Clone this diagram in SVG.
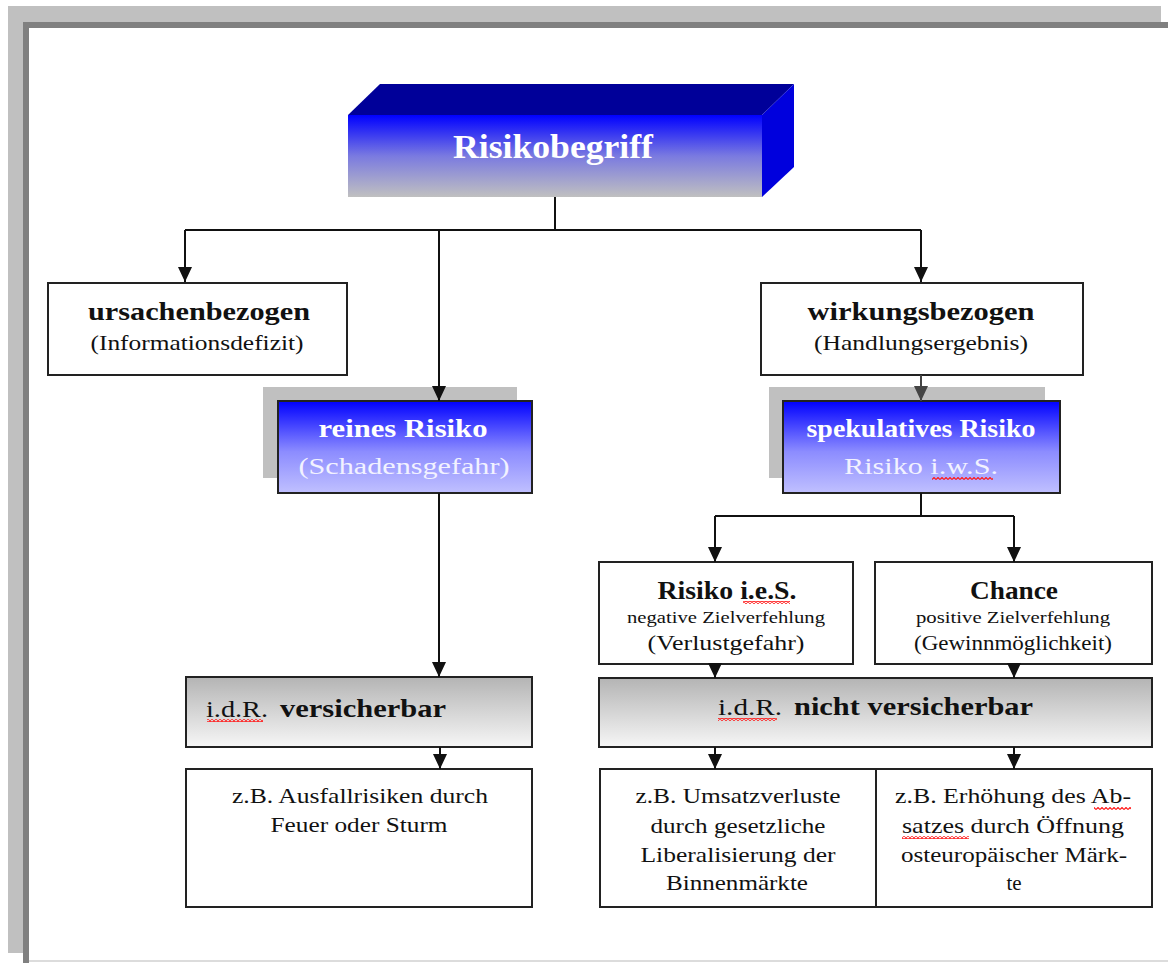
<svg xmlns="http://www.w3.org/2000/svg" width="1168" height="963" viewBox="0 0 1168 963">
  <defs>
    <linearGradient id="frontGrad" x1="0" y1="0" x2="0" y2="1">
      <stop offset="0" stop-color="#0000ff"/>
      <stop offset="0.5" stop-color="#7a7ae0"/>
      <stop offset="1" stop-color="#c0c0c0"/>
    </linearGradient>
    <linearGradient id="blueGrad" x1="0" y1="0" x2="0" y2="1">
      <stop offset="0" stop-color="#0000ff"/>
      <stop offset="0.55" stop-color="#8c8cff"/>
      <stop offset="1" stop-color="#c0c0ff"/>
    </linearGradient>
    <linearGradient id="grayGrad" x1="0" y1="0" x2="0" y2="1">
      <stop offset="0" stop-color="#b4b4b4"/>
      <stop offset="1" stop-color="#f6f6f6"/>
    </linearGradient>
    <pattern id="wavy" width="4" height="3" patternUnits="userSpaceOnUse">
      <path d="M0 2.5 L2 0.5 L4 2.5" fill="none" stroke="#ff1a1a" stroke-width="1.2"/>
    </pattern>
    <marker id="arrow" markerWidth="15" markerHeight="14" refX="15" refY="7" orient="auto" markerUnits="userSpaceOnUse">
      <path d="M0 0 L15 7 L0 14 Z" fill="#111"/>
    </marker>
    <marker id="arrowGray" markerWidth="15" markerHeight="14" refX="15" refY="7" orient="auto" markerUnits="userSpaceOnUse">
      <path d="M0 0 L15 7 L0 14 Z" fill="#444"/>
    </marker>
  </defs>
  <style>
    .box { fill: #fff; stroke: #222; stroke-width: 2; }
    .bbox { fill: url(#blueGrad); stroke: #222; stroke-width: 2; }
    .gbox { fill: url(#grayGrad); stroke: #222; stroke-width: 2; }
    .shadow { fill: #c0c0c0; }
    .t { font-family: "Liberation Serif", "Times New Roman", serif; fill: #111; }
    .b { font-weight: bold; }
    .c { text-anchor: middle; }
    .w { fill: #ffffff; }
    .lw { fill: #f2f2ff; }
    .conn { fill: none; stroke: #111; stroke-width: 2; }
    .wv { fill: url(#wavy); }
  </style>

  <!-- page frame -->
  <g id="frame">
    <rect x="8" y="6" width="1153" height="16" fill="#c0c0c0"/>
    <rect x="8" y="6" width="15" height="947" fill="#c0c0c0"/>
    <rect x="23" y="22" width="1145" height="6" fill="#808080"/>
    <rect x="23" y="22" width="6" height="941" fill="#808080"/>
    <rect x="29" y="960" width="1139" height="2" fill="#dcdcdc"/>
  </g>

  <!-- root block -->
  <g id="risikobegriff">
    <polygon points="348,115 380,84 794,84 762,115" fill="#000099"/>
    <polygon points="762,115 794,84 794,167 762,197" fill="#0000dd"/>
    <rect x="348" y="115" width="414" height="82" fill="url(#frontGrad)"/>
    <text class="t b c w" x="553" y="158" font-size="34" textLength="200" lengthAdjust="spacingAndGlyphs">Risikobegriff</text>
  </g>

  <g id="ursachenbezogen">
    <rect class="box" x="48" y="283" width="299" height="92"/>
    <text class="t b c" x="199" y="320" font-size="26" textLength="222" lengthAdjust="spacingAndGlyphs">ursachenbezogen</text>
    <text class="t c" x="197" y="350" font-size="21" textLength="213" lengthAdjust="spacingAndGlyphs">(Informationsdefizit)</text>
  </g>

  <g id="wirkungsbezogen">
    <rect class="box" x="761" y="283" width="322" height="92"/>
    <text class="t b c" x="921" y="320" font-size="26" textLength="227" lengthAdjust="spacingAndGlyphs">wirkungsbezogen</text>
    <text class="t c" x="921" y="350" font-size="21" textLength="214" lengthAdjust="spacingAndGlyphs">(Handlungsergebnis)</text>
  </g>

  <g id="reines-risiko">
    <rect class="shadow" x="263" y="387" width="254" height="91"/>
    <rect class="bbox" x="278" y="401" width="254" height="92"/>
    <text class="t b c w" x="403" y="437" font-size="25" textLength="169" lengthAdjust="spacingAndGlyphs">reines Risiko</text>
    <text class="t c lw" x="404" y="474" font-size="23" textLength="211" lengthAdjust="spacingAndGlyphs">(Schadensgefahr)</text>
  </g>

  <g id="spekulatives-risiko">
    <rect class="shadow" x="769" y="387" width="276" height="91"/>
    <rect class="bbox" x="783" y="401" width="277" height="92"/>
    <text class="t b c w" x="921" y="437" font-size="25" textLength="229" lengthAdjust="spacingAndGlyphs">spekulatives Risiko</text>
    <text class="t c lw" x="921" y="474" font-size="23" textLength="154" lengthAdjust="spacingAndGlyphs">Risiko i.w.S.</text>
    <rect class="wv" x="932" y="477" width="61" height="3"/>
  </g>

  <g id="risiko-ies">
    <rect class="box" x="599" y="562" width="254" height="102"/>
    <text class="t b c" x="727" y="599" font-size="25" textLength="139" lengthAdjust="spacingAndGlyphs">Risiko i.e.S.</text>
    <rect class="wv" x="743" y="601" width="47" height="3"/>
    <text class="t c" x="726" y="623" font-size="17" textLength="198" lengthAdjust="spacingAndGlyphs">negative Zielverfehlung</text>
    <text class="t c" x="726" y="650" font-size="21" textLength="157" lengthAdjust="spacingAndGlyphs">(Verlustgefahr)</text>
  </g>

  <g id="chance">
    <rect class="box" x="875" y="562" width="277" height="102"/>
    <text class="t b c" x="1014" y="599" font-size="25" textLength="88" lengthAdjust="spacingAndGlyphs">Chance</text>
    <text class="t c" x="1013" y="623" font-size="17" textLength="194" lengthAdjust="spacingAndGlyphs">positive Zielverfehlung</text>
    <text class="t c" x="1013" y="650" font-size="21" textLength="198" lengthAdjust="spacingAndGlyphs">(Gewinnmöglichkeit)</text>
  </g>

  <g id="versicherbar">
    <rect class="gbox" x="186" y="677" width="346" height="70"/>
    <text class="t" x="206" y="717" font-size="23" textLength="62" lengthAdjust="spacingAndGlyphs">i.d.R.</text>
    <text class="t b" x="280" y="717" font-size="25" textLength="166" lengthAdjust="spacingAndGlyphs">versicherbar</text>
    <rect class="wv" x="207" y="719" width="56" height="3"/>
  </g>

  <g id="nicht-versicherbar">
    <rect class="gbox" x="599" y="678" width="553" height="69"/>
    <text class="t" x="718" y="715" font-size="23" textLength="64" lengthAdjust="spacingAndGlyphs">i.d.R.</text>
    <text class="t b" x="794" y="715" font-size="25" textLength="239" lengthAdjust="spacingAndGlyphs">nicht versicherbar</text>
    <rect class="wv" x="718" y="718" width="59" height="3"/>
  </g>

  <g id="beispiel-feuer">
    <rect class="box" x="186" y="769" width="346" height="138"/>
    <text class="t c" x="360" y="803" font-size="21" textLength="256" lengthAdjust="spacingAndGlyphs">z.B. Ausfallrisiken durch</text>
    <text class="t c" x="359" y="832" font-size="21" textLength="177" lengthAdjust="spacingAndGlyphs">Feuer oder Sturm</text>
  </g>

  <g id="beispiel-umsatz">
    <rect class="box" x="600" y="769" width="276" height="138"/>
    <text class="t c" x="738" y="803" font-size="21" textLength="205" lengthAdjust="spacingAndGlyphs">z.B. Umsatzverluste</text>
    <text class="t c" x="738" y="833" font-size="21" textLength="175" lengthAdjust="spacingAndGlyphs">durch gesetzliche</text>
    <text class="t c" x="738" y="862" font-size="21" textLength="195" lengthAdjust="spacingAndGlyphs">Liberalisierung der</text>
    <text class="t c" x="737" y="890" font-size="21" textLength="142" lengthAdjust="spacingAndGlyphs">Binnenmärkte</text>
  </g>

  <g id="beispiel-absatz">
    <rect class="box" x="876" y="769" width="276" height="138"/>
    <text class="t c" x="1013" y="803" font-size="21" textLength="236" lengthAdjust="spacingAndGlyphs">z.B. Erhöhung des Ab-</text>
    <rect class="wv" x="1094" y="807" width="37" height="3"/>
    <text class="t c" x="1013" y="833" font-size="21" textLength="222" lengthAdjust="spacingAndGlyphs">satzes durch Öffnung</text>
    <rect class="wv" x="902" y="836" width="67" height="3"/>
    <text class="t c" x="1014" y="862" font-size="21" textLength="226" lengthAdjust="spacingAndGlyphs">osteuropäischer Märk-</text>
    <text class="t c" x="1014" y="890" font-size="21">te</text>
  </g>

  <!-- connectors -->
  <g id="connectors">
    <path class="conn" d="M555 197 V230"/>
    <path class="conn" d="M185 230 H921"/>
    <path class="conn" d="M185 230 V282" marker-end="url(#arrow)"/>
    <path class="conn" d="M921 230 V282" marker-end="url(#arrow)"/>
    <path class="conn" d="M439 230 V401" marker-end="url(#arrow)"/>
    <path class="conn" d="M921 375 V401" style="stroke:#444" marker-end="url(#arrowGray)"/>
    <path class="conn" d="M439 493 V677" marker-end="url(#arrow)"/>
    <path class="conn" d="M921 493 V516"/>
    <path class="conn" d="M715 516 H1014"/>
    <path class="conn" d="M715 516 V562" marker-end="url(#arrow)"/>
    <path class="conn" d="M1014 516 V562" marker-end="url(#arrow)"/>
    <path class="conn" d="M715 664 V678" marker-end="url(#arrow)"/>
    <path class="conn" d="M1014 664 V678" marker-end="url(#arrow)"/>
    <path class="conn" d="M440 747 V769" marker-end="url(#arrow)"/>
    <path class="conn" d="M715 747 V769" marker-end="url(#arrow)"/>
    <path class="conn" d="M1014 747 V769" marker-end="url(#arrow)"/>
  </g>
</svg>
